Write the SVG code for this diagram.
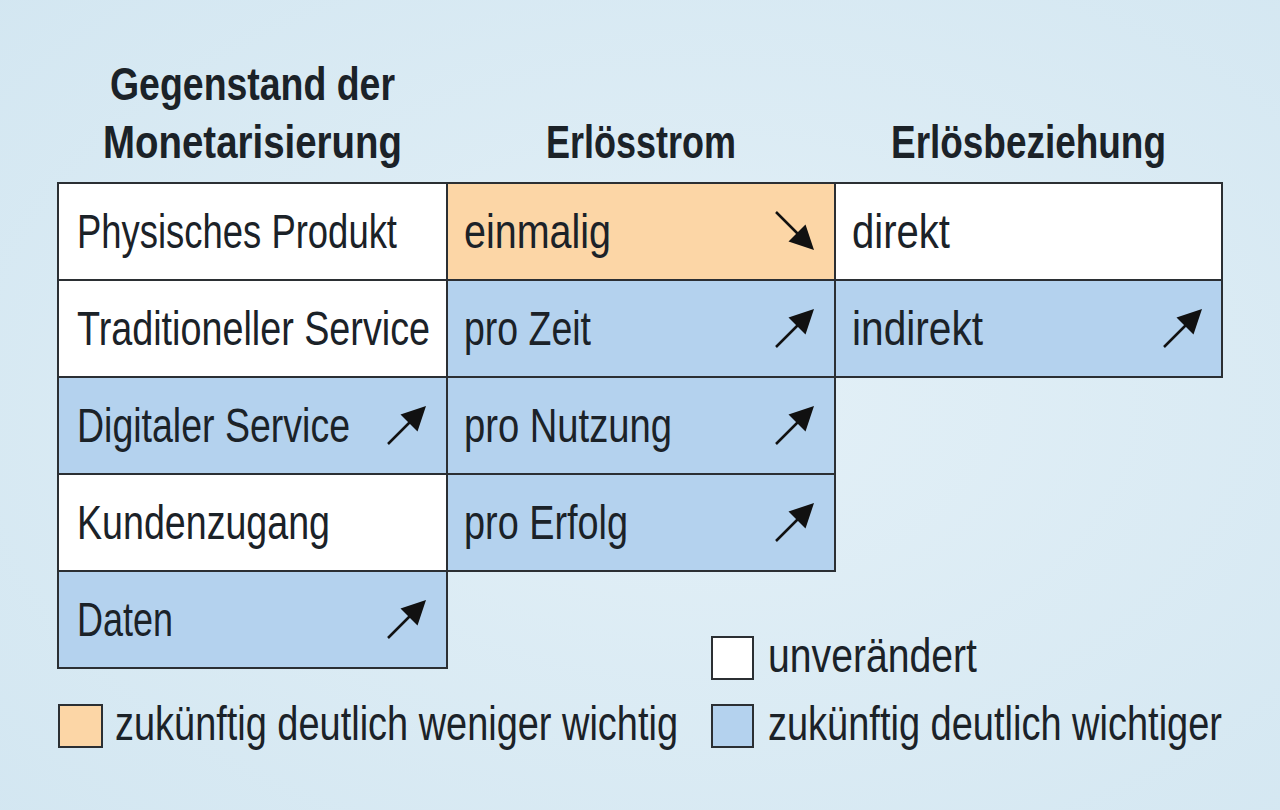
<svg xmlns="http://www.w3.org/2000/svg" xmlns:xlink="http://www.w3.org/1999/xlink" width="1280" height="810" viewBox="0 0 1280 810">
<style>
.cell{stroke:#2b2f33;stroke-width:2}
.w{fill:#ffffff}
.b{fill:#b4d2ee}
.o{fill:#fcd6a6}
.t{font-family:"Liberation Sans",Arial,sans-serif;font-size:48px;fill:#1b2228}
.h{font-family:"Liberation Sans",Arial,sans-serif;font-size:47px;font-weight:bold;fill:#1b2228}
</style>
<defs>
<radialGradient id="bg" cx="0.55" cy="0.5" r="0.8">
<stop offset="0" stop-color="#e3f0f7"/>
<stop offset="1" stop-color="#d2e6f1"/>
</radialGradient>
<g id="up">
<line x1="0" y1="0" x2="23" y2="-23" stroke="#111" stroke-width="2.5"/>
<polygon points="38,-38 29.5,-12.5 12.5,-29.5" fill="#111"/>
</g>
<g id="down">
<line x1="0" y1="0" x2="23" y2="23" stroke="#111" stroke-width="2.5"/>
<polygon points="38,38 29.5,12.5 12.5,29.5" fill="#111"/>
</g>
</defs>
<rect x="0" y="0" width="1280" height="810" fill="url(#bg)"/>

<g id="headers">
<text class="h" x="110" y="100" textLength="285" lengthAdjust="spacingAndGlyphs">Gegenstand der</text>
<text class="h" x="103" y="158" textLength="299" lengthAdjust="spacingAndGlyphs">Monetarisierung</text>
<text class="h" x="546" y="158" textLength="190" lengthAdjust="spacingAndGlyphs">Erlösstrom</text>
<text class="h" x="891" y="158" textLength="275" lengthAdjust="spacingAndGlyphs">Erlösbeziehung</text>
</g>

<g id="col1">
<g id="c1r1"><rect class="cell w" x="58" y="183" width="389" height="97"/><text class="t" x="77" y="248" textLength="320" lengthAdjust="spacingAndGlyphs">Physisches Produkt</text></g>
<g id="c1r2"><rect class="cell w" x="58" y="280" width="389" height="97"/><text class="t" x="77" y="345" textLength="353" lengthAdjust="spacingAndGlyphs">Traditioneller Service</text></g>
<g id="c1r3"><rect class="cell b" x="58" y="377" width="389" height="97"/><text class="t" x="77" y="442" textLength="273" lengthAdjust="spacingAndGlyphs">Digitaler Service</text><use xlink:href="#up" x="388" y="444"/></g>
<g id="c1r4"><rect class="cell w" x="58" y="474" width="389" height="97"/><text class="t" x="77" y="539" textLength="253" lengthAdjust="spacingAndGlyphs">Kundenzugang</text></g>
<g id="c1r5"><rect class="cell b" x="58" y="571" width="389" height="97"/><text class="t" x="77" y="636" textLength="96" lengthAdjust="spacingAndGlyphs">Daten</text><use xlink:href="#up" x="388" y="638"/></g>
</g>

<g id="col2">
<g id="c2r1"><rect class="cell o" x="447" y="183" width="388" height="97"/><text class="t" x="464" y="248" textLength="147" lengthAdjust="spacingAndGlyphs">einmalig</text><use xlink:href="#down" x="776" y="212"/></g>
<g id="c2r2"><rect class="cell b" x="447" y="280" width="388" height="97"/><text class="t" x="464" y="345" textLength="127" lengthAdjust="spacingAndGlyphs">pro Zeit</text><use xlink:href="#up" x="776" y="347"/></g>
<g id="c2r3"><rect class="cell b" x="447" y="377" width="388" height="97"/><text class="t" x="464" y="442" textLength="208" lengthAdjust="spacingAndGlyphs">pro Nutzung</text><use xlink:href="#up" x="776" y="444"/></g>
<g id="c2r4"><rect class="cell b" x="447" y="474" width="388" height="97"/><text class="t" x="464" y="539" textLength="164" lengthAdjust="spacingAndGlyphs">pro Erfolg</text><use xlink:href="#up" x="776" y="541"/></g>
</g>

<g id="col3">
<g id="c3r1"><rect class="cell w" x="835" y="183" width="387" height="97"/><text class="t" x="852" y="248" textLength="98" lengthAdjust="spacingAndGlyphs">direkt</text></g>
<g id="c3r2"><rect class="cell b" x="835" y="280" width="387" height="97"/><text class="t" x="852" y="345" textLength="131" lengthAdjust="spacingAndGlyphs">indirekt</text><use xlink:href="#up" x="1164" y="347"/></g>
</g>

<g id="legend">
<g id="leg-orange"><rect class="cell o" x="59" y="705" width="43" height="42"/><text class="t" x="115" y="740" textLength="563" lengthAdjust="spacingAndGlyphs">zukünftig deutlich weniger wichtig</text></g>
<g id="leg-white"><rect class="cell w" x="712" y="637" width="41" height="42"/><text class="t" x="768" y="672" textLength="209" lengthAdjust="spacingAndGlyphs">unverändert</text></g>
<g id="leg-blue"><rect class="cell b" x="712" y="705" width="41" height="42"/><text class="t" x="768" y="740" textLength="454" lengthAdjust="spacingAndGlyphs">zukünftig deutlich wichtiger</text></g>
</g>
<g id="connectors"/>
</svg>
